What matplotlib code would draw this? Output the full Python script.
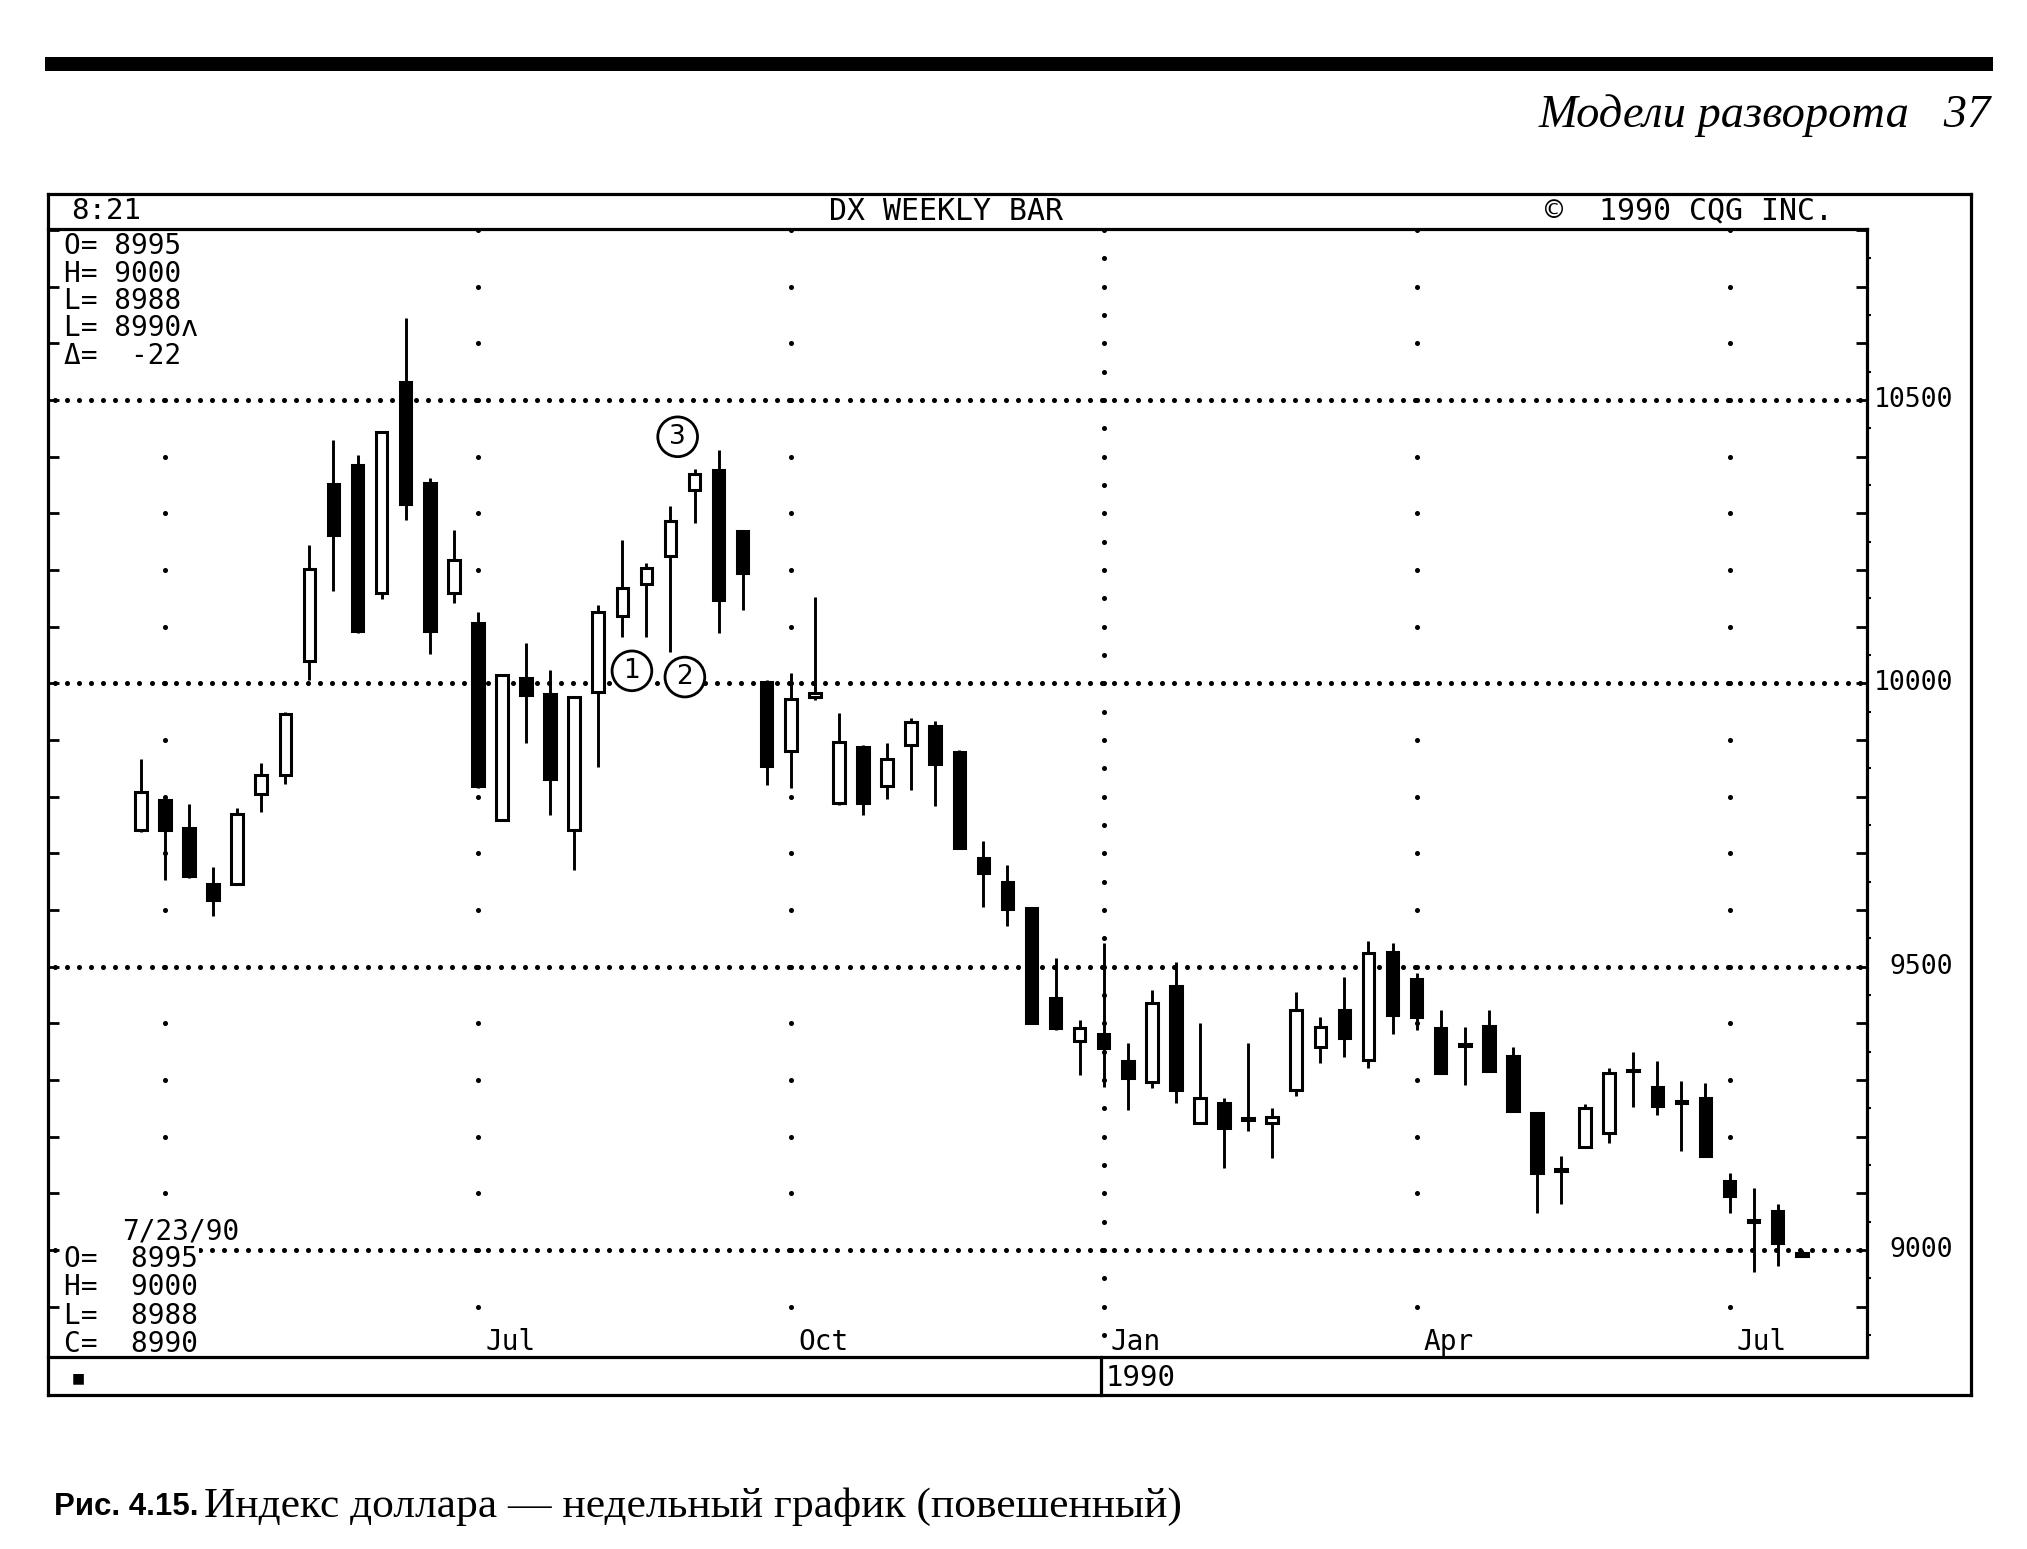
import numpy as np
import pandas as pd
import matplotlib
matplotlib.use("Agg")
import matplotlib.pyplot as plt
from matplotlib.lines import Line2D
from matplotlib.patches import Rectangle

# ---------------- data (weekly DX candles, Mar-1989 .. Jul-1990) ----------------
opens = [9741, 9794, 9745, 9646, 9646, 9804, 9839, 10040, 10352, 10385,
         10160, 10532, 10353, 10159, 10106, 9759, 10009, 9982, 9741, 9985,
         10118, 10175, 10224, 10341, 10376, 10268, 10003, 9880, 9975, 9788,
         9888, 9819, 9891, 9925, 9879, 9691, 9650, 9603, 9444, 9368,
         9381, 9333, 9297, 9465, 9224, 9259, 9233, 9224, 9283, 9359,
         9423, 9335, 9526, 9478, 9391, 9364, 9395, 9342, 9241, 9143,
         9182, 9206, 9318, 9288, 9263, 9268, 9121, 9053, 9068, 8995]
highs = [9866, 9801, 9787, 9675, 9780, 9859, 9950, 10244, 10430, 10402,
         10445, 10645, 10362, 10270, 10126, 10017, 10071, 10023, 9978, 10138,
         10253, 10213, 10312, 10379, 10412, 10270, 10005, 10018, 10153, 9947,
         9892, 9895, 9938, 9934, 9882, 9722, 9679, 9606, 9515, 9406,
         9541, 9365, 9459, 9509, 9400, 9268, 9365, 9250, 9456, 9412,
         9482, 9546, 9542, 9488, 9423, 9394, 9423, 9359, 9244, 9166,
         9257, 9322, 9350, 9334, 9299, 9294, 9136, 9109, 9082, 9000]
lows = [9738, 9653, 9657, 9590, 9644, 9773, 9822, 10005, 10163, 10089,
        10148, 10288, 10051, 10141, 9815, 9757, 9895, 9768, 9671, 9853,
        10082, 10082, 10056, 10283, 10088, 10129, 9820, 9815, 9971, 9786,
        9768, 9795, 9812, 9783, 9708, 9606, 9571, 9398, 9389, 9309,
        9288, 9247, 9285, 9259, 9222, 9144, 9210, 9163, 9272, 9330,
        9341, 9321, 9382, 9388, 9310, 9291, 9314, 9244, 9066, 9082,
        9180, 9189, 9253, 9238, 9175, 9164, 9066, 8962, 8972, 8988]
closes = [9808, 9741, 9660, 9618, 9769, 9839, 9945, 10202, 10262, 10093,
          10443, 10316, 10093, 10218, 9818, 10015, 9979, 9832, 9976, 10126,
          10168, 10203, 10287, 10369, 10147, 10195, 9854, 9972, 9983, 9897,
          9788, 9866, 9931, 9858, 9710, 9666, 9601, 9400, 9391, 9391,
          9356, 9303, 9436, 9283, 9269, 9215, 9230, 9235, 9424, 9393,
          9374, 9524, 9414, 9411, 9312, 9360, 9316, 9246, 9135, 9140,
          9250, 9313, 9315, 9254, 9260, 9166, 9095, 9050, 9012, 8990]
weeks = pd.date_range("1989-03-27", periods=len(opens), freq="W-MON")

price_ticks = [9000, 9500, 10000, 10500]
price_tick_labels = ["9000", "9500", "10000", "10500"]

header_left = "8:21"
header_title = "DX WEEKLY BAR"
header_right = "\u00a9  1990 CQG INC."
info_top = ["O= 8995", "H= 9000", "L= 8988", "L= 8990\u028c", "\u0394=  -22"]
info_date = "7/23/90"
info_bottom = ["O=  8995", "H=  9000", "L=  8988", "C=  8990"]
year_label = "1990"
marks = ["1", "2", "3"]
mark_x = [20.4, 22.6, 22.3]
mark_y = [10022, 10011, 10435]

page_header = "\u041c\u043e\u0434\u0435\u043b\u0438 \u0440\u0430\u0437\u0432\u043e\u0440\u043e\u0442\u0430"
page_number = "37"
caption_bold = "\u0420\u0438\u0441. 4.15."
caption_text = ("\u0418\u043d\u0434\u0435\u043a\u0441 \u0434\u043e\u043b\u043b\u0430\u0440\u0430 \u2014 "
                "\u043d\u0435\u0434\u0435\u043b\u044c\u043d\u044b\u0439 \u0433\u0440\u0430\u0444\u0438\u043a "
                "(\u043f\u043e\u0432\u0435\u0448\u0435\u043d\u043d\u044b\u0439)")

# ---------------- layout helpers ----------------
W, H = 2027, 1549
fig = plt.figure(figsize=(W / 100, H / 100), dpi=100)
fig.patch.set_facecolor("white")
MONO = ["DejaVu Sans Mono", "DejaVu Sans"]


def fxy(x, y):
    return x / W, 1 - y / H


def fline(x0, y0, x1, y1, lw=2.3):
    a, b = fxy(x0, y0)
    c, d = fxy(x1, y1)
    fig.add_artist(Line2D([a, c], [b, d], transform=fig.transFigure,
                          color="black", lw=lw, solid_capstyle="projecting",
                          zorder=10))


def ftext(x, y, s, **kw):
    a, b = fxy(x, y)
    kw.setdefault("family", MONO)
    kw.setdefault("fontsize", 20)
    kw.setdefault("va", "center")
    fig.text(a, b, s, **kw)


# page decoration
fig.add_artist(Rectangle(fxy(45, 71), (1993 - 45) / W, 14 / H,
                         transform=fig.transFigure, color="black", lw=0))
ftext(1991, 116, page_header + "   " + page_number, family="Liberation Serif",
      style="italic", fontsize=33.5, ha="right")
ftext(54, 1507, caption_bold, family="Liberation Sans", weight="bold",
      fontsize=22.5, ha="left")
ftext(204, 1507, caption_text, family="Liberation Serif", fontsize=31.3, ha="left")

# chart frame
L, R, T, B = 48, 1971, 194, 1395
AX_R, HDR_B, AX_B = 1867, 229, 1357
fline(L, T, R, T)
fline(L, B, R, B)
fline(L, T, L, B)
fline(R, T, R, B)
fline(L, HDR_B, AX_R, HDR_B)
fline(AX_R, HDR_B, AX_R, AX_B)
fline(L, AX_B, AX_R, AX_B)
fline(1101, AX_B, 1101, B)

ftext(71, 211, header_left, ha="left", fontsize=21)
ftext(829, 211, header_title, ha="left", fontsize=21.5)
ftext(1545, 211, header_right, ha="left", fontsize=21.5)
ftext(72, 1378, "\u25a0", fontsize=10, ha="left", family="DejaVu Sans")
ftext(1106, 1378, year_label, ha="left", fontsize=21)

# ---------------- main axes ----------------
ax = fig.add_axes([L / W, 1 - AX_B / H, (AX_R - L) / W, (AX_B - HDR_B) / H])
ax.set_facecolor("none")
x0_px, step_px = 140.9, 24.07
xmin = (L - x0_px) / step_px
xmax = (AX_R - x0_px) / step_px
ymax = 10000 + (683.3 - HDR_B) / 0.5667
ymin = 10000 - (AX_B - 683.3) / 0.5667
ax.set_xlim(xmin, xmax)
ax.set_ylim(ymin, ymax)
for s in ax.spines.values():
    s.set_visible(False)
ax.set_xticks([])
ax.set_yticks(np.arange(8900, 10801, 100))
ax.set_yticks(np.arange(8850, 10801, 100), minor=True)
ax.tick_params(axis="y", which="major", direction="in", left=True, right=True,
               labelleft=False, labelright=False, length=8, width=2)
ax.tick_params(axis="y", which="minor", direction="out", left=False, right=True,
               length=3, width=1.5)

# price labels on the right
for v, lab in zip(price_ticks, price_tick_labels):
    ax.text((1953 - L) / (AX_R - L), v, lab, transform=ax.get_yaxis_transform(),
            ha="right", va="center", family=MONO, fontsize=19, clip_on=False)

# dotted horizontal grid
gx = np.arange(xmin + 0.3, xmax - 0.1, 0.5)
for v in price_ticks:
    ax.plot(gx, np.full_like(gx, v), ls="none", marker="o", ms=2.6,
            color="black", zorder=1)

# quarter lines (vertical dotted grid) and month labels
idx = np.arange(len(weeks))
q_idx = [i for i in idx if weeks[i].month in (1, 4, 7, 10) and weeks[i].day <= 7]
for i in q_idx:
    step = 50 if weeks[i].month == 1 else 100
    vy = np.arange(8900 if step == 100 else 8850, 10801, step)
    ax.plot(np.full_like(vy, i, dtype=float), vy, ls="none", marker="o", ms=2.6,
            color="black", zorder=1)
    if i > 5:
        ax.text(i + 0.3, 8838, weeks[i].strftime("%b"), ha="left", va="center",
                family=MONO, fontsize=20)

# candles
o = np.array(opens, float)
c = np.array(closes, float)
h = np.array(highs, float)
lo = np.array(lows, float)
ax.vlines(idx, lo, h, color="black", lw=2.1, zorder=2)
bottom = np.minimum(o, c)
height = np.maximum(np.abs(c - o), 3)
colors = ["white" if cc >= oo else "black" for oo, cc in zip(o, c)]
ax.bar(idx, height, bottom=bottom, width=0.48, color=colors, edgecolor="black",
       linewidth=2.2, zorder=3)

# circled marks
for s, mx, my in zip(marks, mark_x, mark_y):
    ax.text(mx, my, s, ha="center", va="center", fontsize=19, family="DejaVu Sans",
            bbox=dict(boxstyle="circle,pad=0.26", fc="white", ec="black", lw=2),
            zorder=5)

# info blocks (white background hides dotted grid behind them)
tb = dict(facecolor="white", edgecolor="none", pad=0.5)
for k, s in enumerate(info_top):
    ftext(64, 246 + k * 27.5, s, ha="left", bbox=tb)
ftext(122, 1232, info_date, ha="left", bbox=tb)
for k, s in enumerate(info_bottom):
    ftext(64, 1259 + k * 28.3, s, ha="left", bbox=tb)

fig.savefig("out.png", dpi=100, facecolor="white")
